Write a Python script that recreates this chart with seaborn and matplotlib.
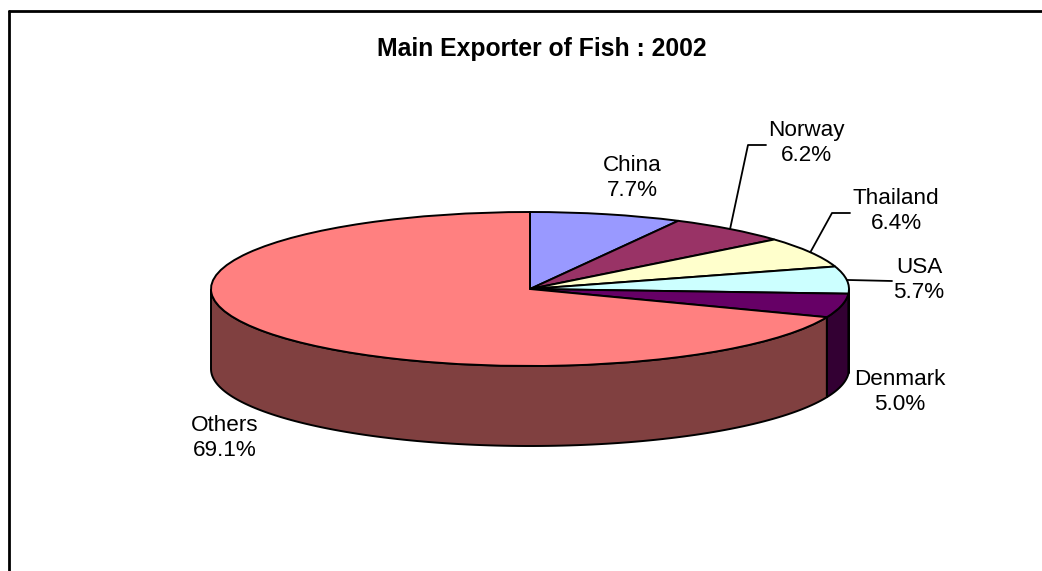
import numpy as np
import matplotlib
matplotlib.use("Agg")
import matplotlib.pyplot as plt
import matplotlib.transforms as mtransforms
from matplotlib.lines import Line2D
import seaborn as sns

# data
countries = ["China", "Norway", "Thailand", "USA", "Denmark", "Others"]
shares = [7.7, 6.2, 6.4, 5.7, 5.0, 69.1]
top_colors = ["#9999FF", "#993366", "#FFFFCC", "#CCFFFF", "#660066", "#FF8080"]
title = "Main Exporter of Fish : 2002"

sns.set_theme(style="white")
plt.rcParams["font.family"] = ["Liberation Sans", "DejaVu Sans"]

label_fs = 16.2
title_fs = 17.8

# pie geometry in pixel units (y goes down)
cx, cy = 530, 289
rx, ry = 319, 77
depth = 80

fig = plt.figure(figsize=(10.42, 5.71), dpi=100)
ax = fig.add_axes([0, 0, 1, 1])

# darker colour for the side walls
side_colors = [tuple(c * 0.5 for c in matplotlib.colors.to_rgb(col)) for col in top_colors]

# top face of the pie
wedges, _ = ax.pie(shares, colors=top_colors, startangle=270, counterclock=True,
                   radius=rx, center=(cx, cy),
                   wedgeprops=dict(edgecolor="black", linewidth=1.4))
squash = mtransforms.Affine2D().translate(-cx, -cy).scale(1, ry / rx).translate(cx, cy)
for w in wedges:
    w.set_transform(squash + ax.transData)
    w.set_zorder(3)

# side walls on the front half
total = sum(shares)
cum = np.concatenate([[0], np.cumsum(shares)]) / total
for i in range(len(shares)):
    a1 = 270 + 360 * cum[i]
    a2 = 270 + 360 * cum[i + 1]
    for off in (0, 360, 720):
        lo, hi = max(a1, off), min(a2, off + 180)
        if hi <= lo:
            continue
        th = np.radians(np.linspace(lo, hi, 120))
        xs = cx + rx * np.cos(th)
        ys = cy + ry * np.sin(th)
        px = np.concatenate([xs, xs[::-1]])
        py = np.concatenate([ys, ys[::-1] + depth])
        ax.fill(px, py, color=side_colors[i], edgecolor="black", linewidth=1.4, zorder=2)

ax.set_xlim(0, 1042)
ax.set_ylim(571, 0)
ax.set_aspect("auto")
ax.axis("off")


def rim_point(i):
    mid = np.radians(270 + 180 * (cum[i] + cum[i + 1]))
    return cx + rx * np.cos(mid), cy + ry * np.sin(mid)


# labels
label_pos = {"China": (632, 178), "Norway": (806, 143), "Thailand": (896, 211),
             "USA": (919, 280), "Denmark": (900, 392), "Others": (225, 438)}
for name, val in zip(countries, shares):
    x, y = label_pos[name]
    ax.text(x, y, f"{name}\n{val:.1f}%", ha="center", va="center", fontsize=label_fs,
            linespacing=1.2, color="black", zorder=5)

# leader lines
elbows = {"Norway": [(748, 145), (766, 145)],
          "Thailand": [(832, 213), (850, 213)],
          "USA": [(892, 281)]}
for name, pts in elbows.items():
    i = countries.index(name)
    x0, y0 = rim_point(i)
    xs = [x0] + [p[0] for p in pts]
    ys = [y0] + [p[1] for p in pts]
    ax.plot(xs, ys, color="black", linewidth=1.3, zorder=4)

ax.text(542, 49, title, ha="center", va="center", fontsize=title_fs, fontweight="bold",
        color="black")

# chart frame (top and left edges visible)
fig.add_artist(Line2D([9 / 1042, 9 / 1042], [0, 1 - 11 / 571], color="black", linewidth=2,
                      transform=fig.transFigure))
fig.add_artist(Line2D([9 / 1042, 1], [1 - 11 / 571, 1 - 11 / 571], color="black", linewidth=2,
                      transform=fig.transFigure))

fig.savefig("out.png", dpi=100, facecolor="white")
